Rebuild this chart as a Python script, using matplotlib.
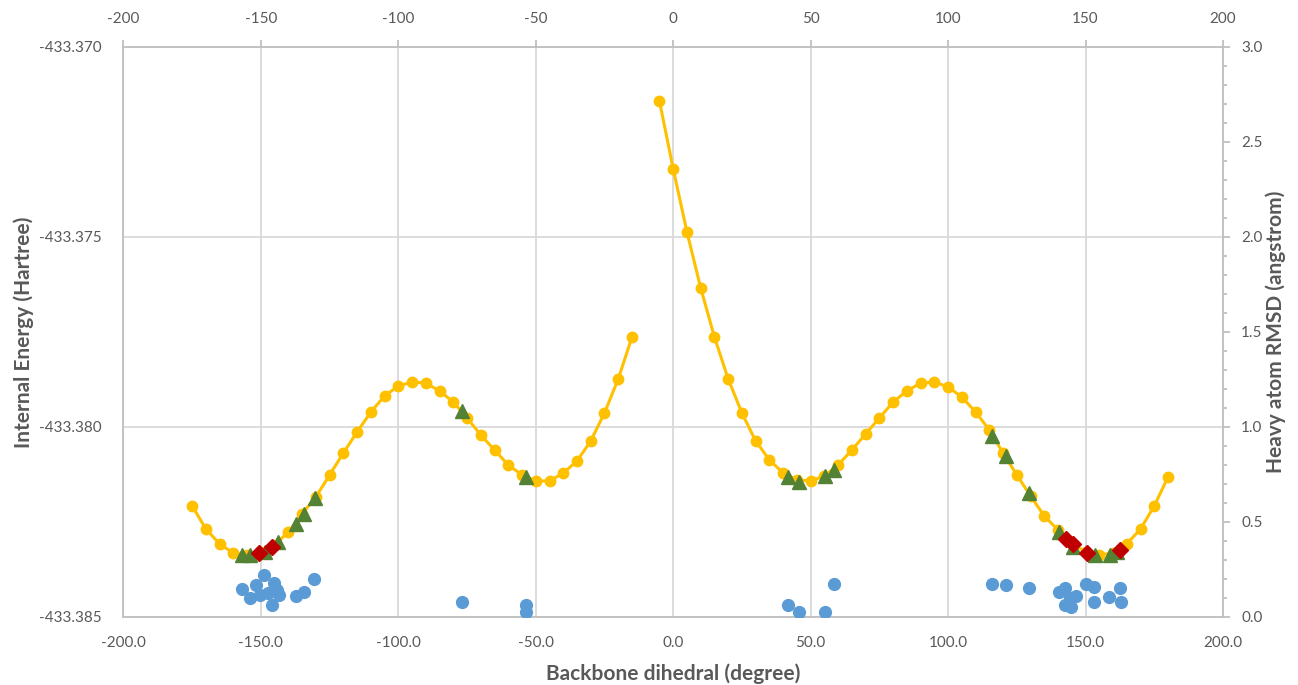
import matplotlib
import matplotlib.pyplot as plt
import numpy as np
from matplotlib.ticker import FormatStrFormatter, MultipleLocator

matplotlib.use("Agg")

# energy scan (Hartree) along the backbone dihedral, no point at -10
scan_angle = [
    -175, -170, -165, -160, -155, -150, -145, -140, -135, -130, -125, -120,
    -115, -110, -105, -100, -95, -90, -85, -80, -75, -70, -65, -60,
    -55, -50, -45, -40, -35, -30, -25, -20, -15, -10, -5, 0,
    5, 10, 15, 20, 25, 30, 35, 40, 45, 50, 55, 60,
    65, 70, 75, 80, 85, 90, 95, 100, 105, 110, 115, 120,
    125, 130, 135, 140, 145, 150, 155, 160, 165, 170, 175, 180,
]
scan_energy = [
    -433.382079, -433.382684, -433.383079, -433.383316, -433.383368, -433.383289,
    -433.383105, -433.382763, -433.382289, -433.381842, -433.381263, -433.380684,
    -433.380132, -433.379605, -433.379184, -433.378921, -433.378816, -433.378842,
    -433.379053, -433.379342, -433.379763, -433.380211, -433.380605, -433.381000,
    -433.381263, -433.381421, -433.381421, -433.381211, -433.380895, -433.380368,
    -433.379632, -433.378737, -433.377632, np.nan, -433.371421, -433.373211,
    -433.374868, -433.376342, -433.377632, -433.378737, -433.379632, -433.380368,
    -433.380868, -433.381211, -433.381395, -433.381421, -433.381289, -433.381000,
    -433.380605, -433.380184, -433.379763, -433.379342, -433.379053, -433.378842,
    -433.378816, -433.378947, -433.379211, -433.379605, -433.380079, -433.380684,
    -433.381263, -433.381816, -433.382342, -433.382711, -433.383053, -433.383289,
    -433.383368, -433.383316, -433.383079, -433.382684, -433.382079, -433.381316,
]

# optimised conformers (green) and lowest ones (red)
tri_angle = [-157, -154, -148.5, -143.7, -137.3, -134.4, -130.4, -76.8, -53.4,
             41.7, 45.7, 55.1, 58.4, 115.9, 121.2, 129.6, 140.3, 145.5, 153.5,
             158.9, 161.5]
tri_energy = [-433.383368, -433.383368, -433.383289, -433.383026, -433.382553,
              -433.382289, -433.381868, -433.379579, -433.381316, -433.381316,
              -433.381447, -433.381289, -433.381132, -433.380237, -433.380763,
              -433.381737, -433.382763, -433.383158, -433.383368, -433.383368,
              -433.383289]
dia_angle = [-150.7, -146.1, 143.0, 145.6, 150.5, 162.6]
dia_energy = [-433.383316, -433.383158, -433.382947, -433.383079, -433.383316,
              -433.383237]

# heavy atom RMSD (angstrom) on the secondary axes
rmsd_angle = [-156.7, -154.0, -151.8, -150.4, -148.8, -147.3, -146.1, -145.2,
              -144.1, -143.3, -137.3, -134.3, -130.6, -76.8, -53.4, -53.4,
              41.9, 45.7, 55.1, 58.4, 116.1, 121.2, 129.6, 140.5, 142.4, 142.7,
              144.4, 144.8, 146.6, 150.2, 153.0, 153.0, 158.7, 162.4, 163.0]
rmsd_value = [0.149, 0.102, 0.167, 0.114, 0.219, 0.125, 0.063, 0.177, 0.142,
              0.114, 0.111, 0.132, 0.198, 0.079, 0.063, 0.028, 0.063, 0.028,
              0.028, 0.172, 0.172, 0.167, 0.154, 0.133, 0.151, 0.063, 0.098,
              0.054, 0.111, 0.174, 0.156, 0.081, 0.107, 0.151, 0.081]

TEXT = "#595959"
GRID = "#d9d9d9"
SPINE = "#bfbfbf"

plt.rcParams["font.family"] = ["Lato", "DejaVu Sans"]

fig = plt.figure(figsize=(12.98, 6.85), dpi=100)
ax = fig.add_axes([0.0951, 0.0993, 0.8471, 0.8321])
ax.set_xlim(-200, 200)
ax.set_ylim(-433.385, -433.370)
ax.xaxis.set_major_locator(MultipleLocator(50))
ax.yaxis.set_major_locator(MultipleLocator(0.005))
ax.xaxis.set_major_formatter(FormatStrFormatter("%.1f"))
ax.yaxis.set_major_formatter(FormatStrFormatter("%.3f"))
ax.grid(True, color=GRID, linewidth=1.3)
ax.set_axisbelow(True)
ax.tick_params(axis="both", length=0, labelsize=11, colors=TEXT)
ax.tick_params(axis="x", pad=14)
ax.tick_params(axis="y", pad=16)
for side in ["left", "bottom", "top"]:
    ax.spines[side].set_color(SPINE)
    ax.spines[side].set_linewidth(1.3)
ax.spines["right"].set_visible(False)

ax.plot(scan_angle, scan_energy, color="#ffc000", linewidth=2.2, marker="o",
        markersize=7.5, zorder=3)
ax.plot(tri_angle, tri_energy, linestyle="none", marker="^", markersize=9.5,
        color="#548235", zorder=4)
ax.plot(dia_angle, dia_energy, linestyle="none", marker="D", markersize=8,
        color="#c00000", zorder=5)

ax.set_xlabel("Backbone dihedral (degree)", fontsize=15, fontweight="bold",
              color=TEXT, labelpad=9)
ax.set_ylabel("Internal Energy (Hartree)", fontsize=15, fontweight="bold",
              color=TEXT, labelpad=3)

# secondary axes: top x and right y
ax2 = ax.twinx()
ax2.set_ylim(0, 3.0)
ax2.yaxis.set_major_locator(MultipleLocator(0.5))
ax2.yaxis.set_minor_locator(MultipleLocator(0.1))
ax2.yaxis.set_major_formatter(FormatStrFormatter("%.1f"))
ax2.tick_params(axis="y", which="major", length=5, width=1.3, color=SPINE,
                labelsize=11, labelcolor=TEXT, pad=8)
ax2.tick_params(axis="y", which="minor", length=3, width=1.3, color=SPINE)
for side in ["left", "bottom", "top"]:
    ax2.spines[side].set_visible(False)
ax2.spines["right"].set_color(SPINE)
ax2.spines["right"].set_linewidth(1.3)
ax2.plot(rmsd_angle, rmsd_value, linestyle="none", marker="o", markersize=8.5,
         color="#5b9bd5", zorder=3)
ax2.set_ylabel("Heavy atom RMSD (angstrom)", fontsize=15, fontweight="bold",
               color=TEXT, labelpad=2)

ax3 = ax.twiny()
ax3.set_xlim(-200, 200)
ax3.xaxis.set_major_locator(MultipleLocator(50))
ax3.xaxis.set_major_formatter(FormatStrFormatter("%d"))
ax3.tick_params(axis="x", length=5, width=1.3, color=SPINE, labelsize=11,
                labelcolor=TEXT, pad=10)
for side in ["left", "bottom", "top", "right"]:
    ax3.spines[side].set_visible(False)

fig.savefig("out.png", dpi=100)
plt.close(fig)
